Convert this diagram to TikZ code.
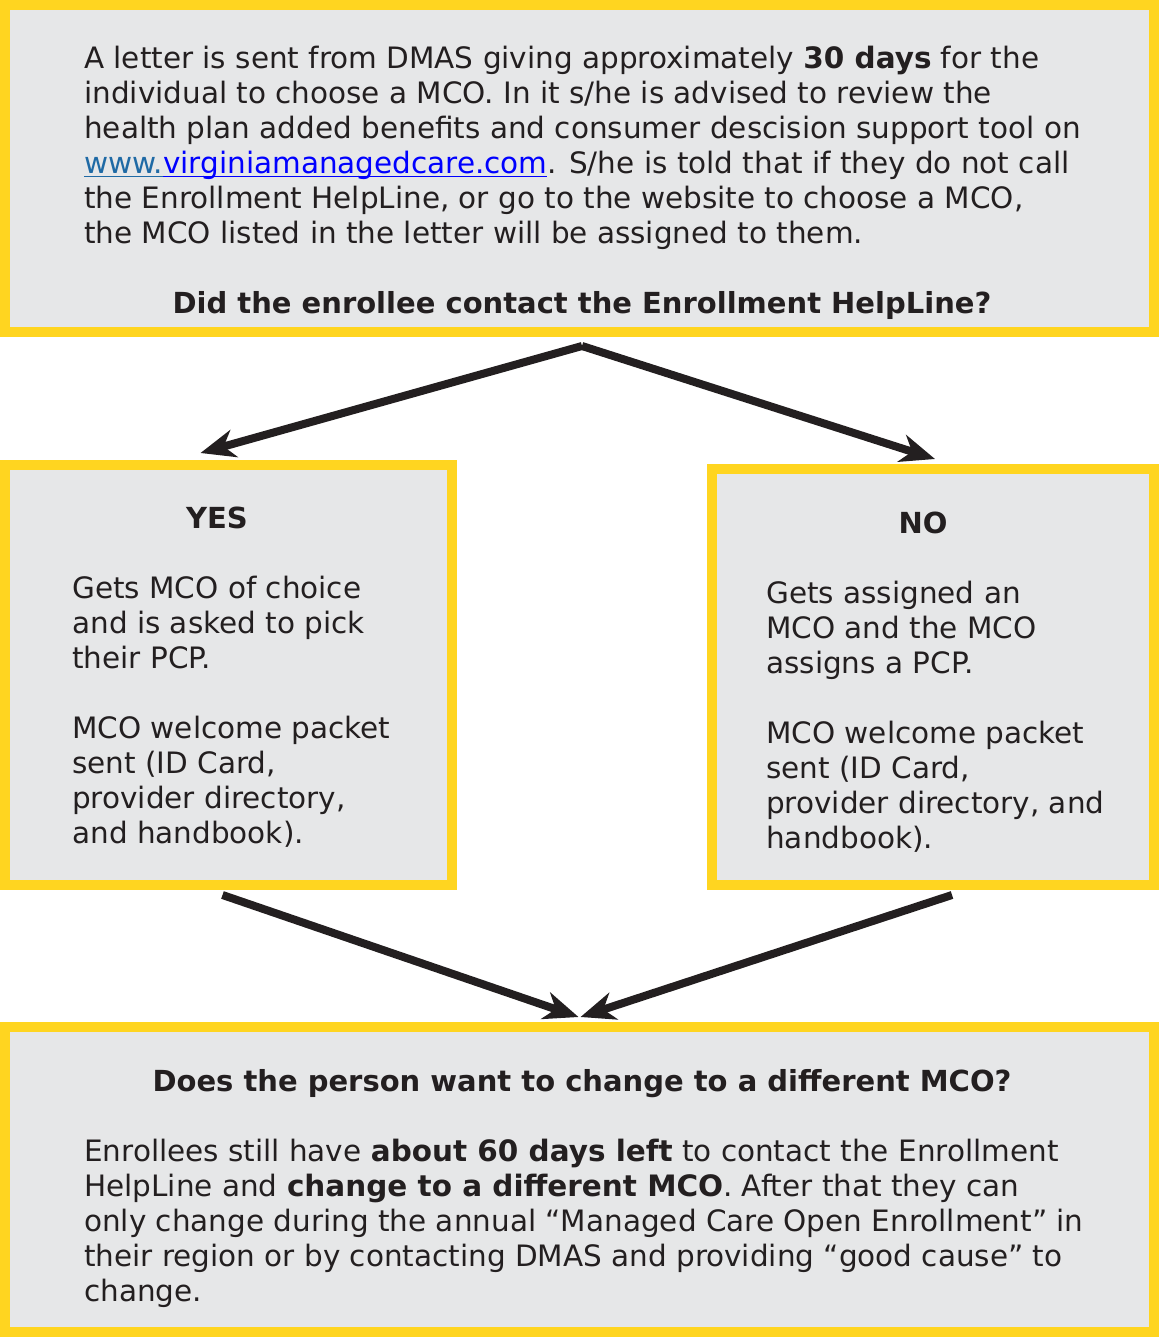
\documentclass[tikz,border=0pt]{standalone}
\usepackage{fontspec}
\setmainfont{DejaVu Sans}
\usepackage{xcolor}
\definecolor{boxgold}{RGB}{255,213,32}
\definecolor{boxgray}{RGB}{230,231,232}
\definecolor{inkdark}{RGB}{35,31,32}
\definecolor{linkdark}{RGB}{31,106,165}
\definecolor{linkblue}{RGB}{0,0,255}
\usepackage{tikz}
\usetikzlibrary{arrows.meta, positioning, calc}

\begin{document}
\begin{tikzpicture}[
  x=0.75pt, y=-0.75pt,
  panel/.style={rectangle, draw=boxgold, fill=boxgray, line width=7.5pt, inner sep=0pt},
  body/.style={inner sep=0pt, align=left, text=inkdark, font=\fontsize{22.1}{26.25}\selectfont},
  head/.style={inner sep=0pt, text=inkdark, font=\fontsize{21.75}{26.25}\selectfont\bfseries},
  arr/.style={-{Stealth[length=26pt, width=21pt, inset=8pt]}, line width=6pt, inkdark}
]
  \useasboundingbox (0,0) rectangle (1159,1337);

  % the four panels
  \node[panel, minimum width=861.75pt, minimum height=245.25pt] (letter) at (579.5,168.5) {};
  \node[panel, minimum width=335.25pt, minimum height=315pt] (yes) at (228.5,675) {};
  \node[panel, minimum width=331.5pt, minimum height=312pt] (no) at (933,677) {};
  \node[panel, minimum width=861.75pt, minimum height=228.75pt] (change) at (579.5,1179.5) {};

  % letter text (base = last line)
  \node[body, anchor=base west] (lettertxt) at (84,244) {A letter is sent from DMAS giving approximately \textbf{30 days} for the\\
    individual to choose a MCO. In it s/he is advised to review the\\
    health plan added benefits and consumer descision support tool on\\
    \textcolor{linkdark}{\underline{\smash{www.}}}\textcolor{linkblue}{\underline{\smash{virginiamanagedcare.com}}}. S/he is told that if they do not call\\
    the Enrollment HelpLine, or go to the website to choose a MCO,\\
    the MCO listed in the letter will be assigned to them.};
  \node[head, anchor=base] (askhelp) at (582,314) {Did the enrollee contact the Enrollment HelpLine?};

  % yes / no branches
  \node[head, anchor=base] (yeshead) at (217,528) {YES};
  \node[body, anchor=base west] (yestxt) at (72,843) {Gets MCO of choice\\
    and is asked to pick\\
    their PCP.\\[26.25pt]
    MCO welcome packet\\
    sent (ID Card,\\
    provider directory,\\
    and handbook).};
  \node[head, anchor=base] (nohead) at (923,533) {NO};
  \node[body, anchor=base west] (notxt) at (766,848) {Gets assigned an\\
    MCO and the MCO\\
    assigns a PCP.\\[26.25pt]
    MCO welcome packet\\
    sent (ID Card,\\
    provider directory, and\\
    handbook).};

  % change question
  \node[head, anchor=base] (askchange) at (582,1091) {Does the person want to change to a different MCO?};
  \node[body, anchor=base west] (changetxt) at (84,1301) {Enrollees still have \textbf{about 60 days left} to contact the Enrollment\\
    HelpLine and \textbf{change to a different MCO}. After that they can\\
    only change during the annual “Managed Care Open Enrollment” in\\
    their region or by contacting DMAS and providing “good cause” to\\
    change.};

  % connectors
  \draw[arr] ($(letter.south)+(2.5,9)$) -- ($(yes.north)+(-28,-7)$);
  \draw[arr] ($(letter.south)+(2.5,9)$) -- ($(no.north)+(2,-5)$);
  \draw[arr] ($(yes.south)+(-6,5)$) -- ($(change.north)+(-1,-5)$);
  \draw[arr] ($(no.south)+(19,5)$) -- ($(change.north)+(1,-5)$);
\end{tikzpicture}
\end{document}
